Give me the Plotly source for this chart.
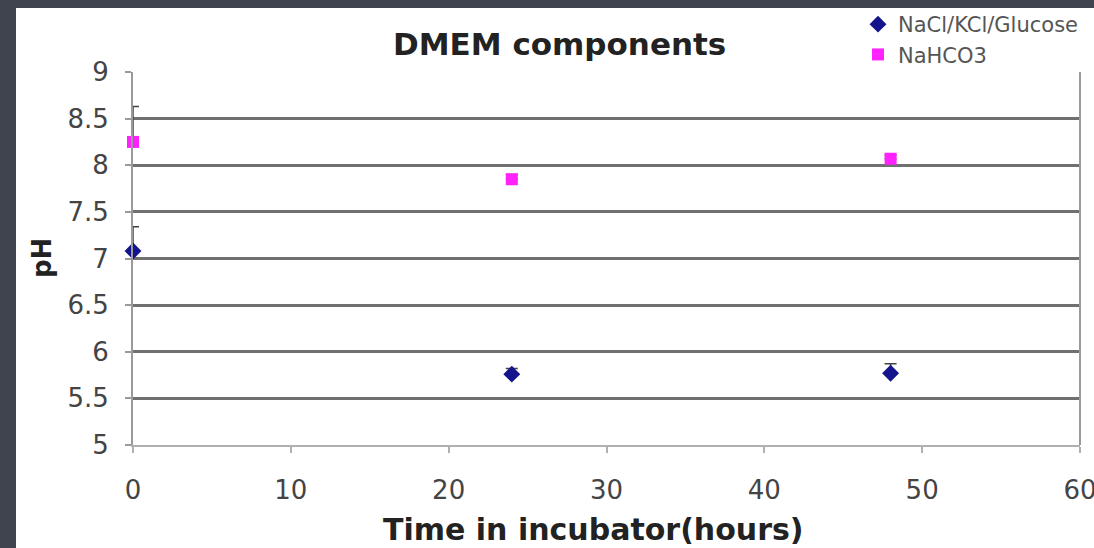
import plotly.graph_objects as go

hours = [0, 24, 48]
nacl_ph = [7.08, 5.76, 5.77]
nacl_err = [0.26, 0.06, 0.1]
nahco3_ph = [8.25, 7.85, 8.07]
nahco3_err = [0.38, 0.05, 0.04]
series_names = ["NaCl/KCl/Glucose", "NaHCO3"]
y_ticks = [5, 5.5, 6, 6.5, 7, 7.5, 8, 8.5, 9]
x_ticks = [0, 10, 20, 30, 40, 50, 60]

FONT = "DejaVu Sans"
L, R, T, B = 133, 14, 72, 103
W, H = 1094, 548
pw = W - L - R
ph = H - T - B

def px_x(p):
    return (p - L) / pw

def px_y(p):
    return (H - B - p) / ph

fig = go.Figure()
fig.add_trace(go.Scatter(
    x=hours, y=nacl_ph, mode="markers", name=series_names[0],
    legendgroup="a", cliponaxis=False,
    marker=dict(symbol="diamond", size=13, color="#14148c"),
    error_y=dict(type="data", array=nacl_err, arrayminus=[0, 0, 0], symmetric=False,
                 color="#444444", thickness=1.5, width=6),
))
fig.add_trace(go.Scatter(
    x=hours, y=nahco3_ph, mode="markers", name=series_names[1],
    legendgroup="b", cliponaxis=False,
    marker=dict(symbol="square", size=12, color="#ff22ff"),
    error_y=dict(type="data", array=nahco3_err, arrayminus=[0, 0, 0], symmetric=False,
                 color="#444444", thickness=1.5, width=6),
))

fig.update_layout(
    width=W, height=H,
    margin=dict(l=L, r=R, t=T, b=B, autoexpand=False),
    paper_bgcolor="#40444f",
    plot_bgcolor="white",
    font=dict(family=FONT, color="#333333"),
    showlegend=True,
    legend=dict(x=px_x(858), y=px_y(4), xanchor="left", yanchor="top",
                font=dict(family=FONT, size=21, color="#555555"),
                bgcolor="rgba(0,0,0,0)", itemwidth=30,
                traceorder="grouped", tracegroupgap=0),
    shapes=[dict(type="rect", xref="paper", yref="paper", layer="below",
                 x0=px_x(16), x1=px_x(W + 5), y0=px_y(H + 5), y1=px_y(8),
                 fillcolor="white", line=dict(width=0))],
    annotations=[
        dict(text="<b>DMEM components</b>", xref="paper", yref="paper",
             x=px_x(559), y=px_y(44), showarrow=False, xanchor="center", yanchor="middle",
             font=dict(family=FONT, size=31, color="#222222")),
        dict(text="<b>Time in incubator(hours)</b>", xref="paper", yref="paper",
             x=px_x(593), y=px_y(529), showarrow=False, xanchor="center", yanchor="middle",
             font=dict(family=FONT, size=30, color="#222222")),
        dict(text="<b>pH</b>", xref="paper", yref="paper", textangle=-90,
             x=px_x(42), y=px_y(258), showarrow=False, xanchor="center", yanchor="middle",
             font=dict(family=FONT, size=26, color="#222222")),
    ],
)

fig.update_xaxes(
    range=[0, 60], tickvals=x_ticks, ticktext=[str(v) for v in x_ticks],
    showgrid=False, zeroline=False,
    showline=True, linecolor="#b0b0b0", linewidth=2, mirror=False,
    ticks="outside", ticklen=6, tickcolor="#b0b0b0", tickwidth=1.5,
    ticklabelstandoff=15, ticklabeloverflow="allow",
    tickfont=dict(family=FONT, size=26, color="#444444"),
)
fig.update_yaxes(
    range=[5, 9], tickvals=y_ticks, ticktext=[f"{v:g}" for v in y_ticks],
    showgrid=True, gridcolor="#707070", gridwidth=2.5, zeroline=False,
    showline=True, linecolor="#9a9a9a", linewidth=2,
    ticks="outside", ticklen=6, tickcolor="#9a9a9a", tickwidth=1.5,
    ticklabelstandoff=11,
    tickfont=dict(family=FONT, size=26, color="#444444"),
)
fig.add_shape(type="line", xref="paper", yref="paper", x0=1, x1=1, y0=0, y1=1,
              line=dict(color="#9a9a9a", width=2))

fig.write_html(
    "out.html",
    config={"displayModeBar": False},
    post_script="document.body.style.margin='0';document.body.style.background='#40444f';document.body.style.overflow='hidden';",
)
